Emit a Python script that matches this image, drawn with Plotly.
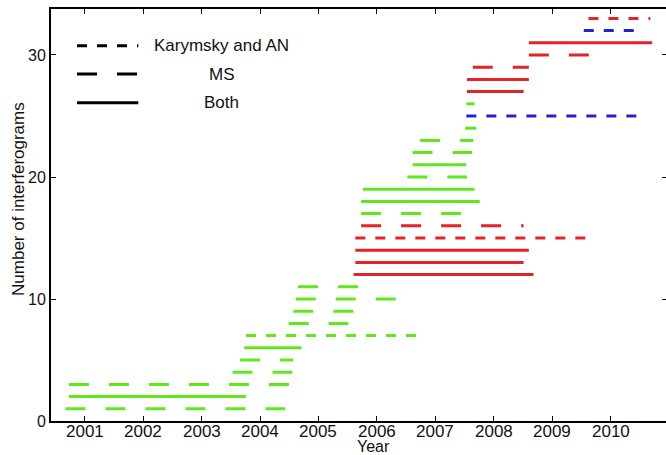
import plotly.graph_objects as go

# ---- data (decimal years) ----
levels = list(range(1, 34))
start_year = [2000.67, 2000.73, 2000.73, 2003.53, 2003.66, 2003.73, 2003.76, 2004.49, 2004.57, 2004.61,
              2004.65, 2005.60, 2005.63, 2005.63, 2005.63, 2005.73, 2005.73, 2005.73, 2005.76, 2006.52,
              2006.61, 2006.61, 2006.74, 2007.51, 2007.53, 2007.53, 2007.54, 2007.54, 2007.64, 2008.60,
              2008.60, 2009.54, 2009.62]
end_year = [2004.43, 2003.76, 2004.50, 2004.55, 2004.57, 2004.71, 2006.67, 2005.51, 2005.60, 2006.33,
            2005.68, 2008.68, 2008.51, 2008.60, 2009.58, 2008.51, 2007.45, 2007.76, 2007.67, 2007.54,
            2007.53, 2007.63, 2007.65, 2007.70, 2010.45, 2007.67, 2008.51, 2008.60, 2008.60, 2009.63,
            2010.71, 2010.41, 2010.68]
# network: K = Karymsky and AN, MS = MS, B = Both
network = ["MS", "B", "MS", "MS", "MS", "B", "K", "MS", "MS", "MS",
           "MS", "B", "B", "B", "K", "MS", "MS", "B", "B", "MS",
           "B", "MS", "MS", "MS", "K", "MS", "B", "B", "MS", "MS",
           "B", "K", "K"]
group = ["g", "g", "g", "g", "g", "g", "g", "g", "g", "g",
         "g", "r", "r", "r", "r", "r", "g", "g", "g", "g",
         "g", "g", "g", "g", "b", "g", "r", "r", "r", "r",
         "r", "b", "r"]
year_ticks = list(range(2001, 2011))
y_ticks = [0, 10, 20, 30]
legend_names = ["Karymsky and AN", "MS", "Both"]
legend_keys = ["K", "MS", "B"]

colors = {"g": "#5fe81c", "r": "#e3222a", "b": "#2222d4"}
dashes = {"K": "10px,10px", "MS": "20px,20px", "B": "solid"}

FONT = "Liberation Sans, Arial, sans-serif"
TXT = "#111"

fig = go.Figure()
for lv, s, e, n, g in zip(levels, start_year, end_year, network, group):
    fig.add_trace(go.Scatter(
        x=[s, e], y=[lv, lv], mode="lines",
        line=dict(color=colors[g], width=3, dash=dashes[n]),
        showlegend=False, hoverinfo="skip"))

# dummy trace to activate right-side tick axis
fig.add_trace(go.Scatter(x=[None], y=[None], yaxis="y2", showlegend=False))

# legend drawn manually (MATLAB-style)
leg_y = [0.911, 0.842, 0.7726]
for name, key, yy in zip(legend_names, legend_keys, leg_y):
    fig.add_shape(type="line", xref="paper", yref="paper",
                  x0=0.0423, x1=0.142, y0=yy, y1=yy,
                  line=dict(color="black", width=3, dash=dashes[key]))
    fig.add_annotation(text=name, xref="paper", yref="paper", x=0.278, y=yy,
                       xanchor="center", yanchor="middle", showarrow=False,
                       font=dict(family=FONT, size=17, color=TXT))

# x tick labels (placed tight under the axis, as in the reference)
for yr in year_ticks:
    fig.add_annotation(text=str(yr), xref="x", yref="paper", x=yr, y=-0.0262,
                       xanchor="center", yanchor="middle", showarrow=False,
                       font=dict(family=FONT, size=17, color=TXT))

fig.add_annotation(text="Year", xref="paper", yref="paper", x=0.5236, y=-0.062,
                   xanchor="center", yanchor="middle", showarrow=False,
                   font=dict(family=FONT, size=16, color=TXT))
fig.add_annotation(text="Number of interferograms", xref="paper", yref="paper",
                   x=-0.052, y=0.539, textangle=-90, xanchor="center", yanchor="middle",
                   showarrow=False, font=dict(family=FONT, size=17, color=TXT))

fig.update_layout(
    width=666, height=455,
    margin=dict(l=51, r=0, t=9, b=34),
    paper_bgcolor="white", plot_bgcolor="white",
    xaxis=dict(range=[2000.423, 2010.947], tickmode="array", tickvals=year_ticks,
               showticklabels=False,
               showgrid=False, zeroline=False, showline=True, linecolor="black",
               linewidth=2, mirror="ticks", ticks="inside", ticklen=5, tickwidth=1,
               tickcolor="black"),
    yaxis=dict(range=[0, 33.77], tickmode="array", tickvals=y_ticks,
               showgrid=False, zeroline=False, showline=True, linecolor="black",
               linewidth=2, mirror=False, ticks="inside", ticklen=5, tickwidth=1,
               tickcolor="black", tickfont=dict(family=FONT, size=16, color=TXT)),
    yaxis2=dict(range=[0, 33.77], overlaying="y", side="right", tickmode="array",
                tickvals=y_ticks, showticklabels=False, showgrid=False, zeroline=False,
                showline=False, ticks="inside", ticklen=4, tickwidth=1, tickcolor="black"),
)

fig.write_html("out.html")
